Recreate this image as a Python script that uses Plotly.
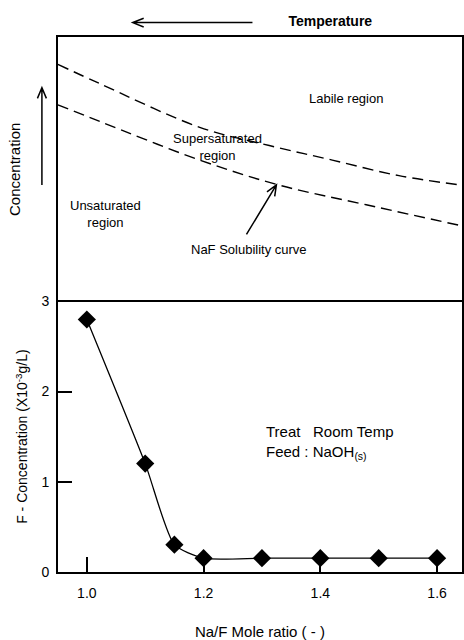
import math
import plotly.graph_objects as go

# Bottom panel data
mole_ratio = [1.0, 1.1, 1.15, 1.2, 1.3, 1.4, 1.5, 1.6]
f_conc = [2.8, 1.2, 0.3, 0.15, 0.15, 0.15, 0.15, 0.15]
x_ticks = [1.0, 1.2, 1.4, 1.6]
x_tick_labels = ["1.0", "1.2", "1.4", "1.6"]
y_ticks = [0, 1, 2, 3]
y_tick_labels = ["0", "1", "2", "3"]

# Top panel schematic curves (relative temperature / concentration, 0..1)
labile_x = [0.0, 0.104, 0.351, 0.523, 0.679, 0.844, 1.0]
labile_y = [0.897, 0.824, 0.659, 0.590, 0.535, 0.476, 0.440]
solub_x = [0.0, 0.104, 0.351, 0.548, 0.763, 1.0]
solub_y = [0.744, 0.681, 0.535, 0.440, 0.366, 0.286]

W, H = 464, 640
FONT = "Liberation Sans, Arial, sans-serif"


def px(x):
    return x / W


def py(y):
    return (H - y) / H


fig = go.Figure()

fig.add_trace(go.Scatter(
    x=mole_ratio, y=f_conc, mode="lines+markers",
    line=dict(color="black", width=1.3, shape="spline", smoothing=0.6),
    marker=dict(symbol="diamond", size=14, color="black"),
    xaxis="x", yaxis="y", showlegend=False))

for cx, cy in [(labile_x, labile_y), (solub_x, solub_y)]:
    fig.add_trace(go.Scatter(
        x=cx, y=cy, mode="lines",
        line=dict(color="black", width=1.4, dash="11px,6px", shape="spline"),
        xaxis="x2", yaxis="y2", showlegend=False))

xd = [px(58), px(463)]
fig.update_layout(
    width=W, height=H,
    margin=dict(l=0, r=0, t=0, b=0),
    paper_bgcolor="white", plot_bgcolor="white",
    font=dict(family=FONT, color="black", size=13),
    title=dict(text="Temperature", x=px(331), y=py(13), xref="paper", yref="paper",
               xanchor="center", yanchor="middle",
               font=dict(size=14, family=FONT, color="black", weight="bold")),
    xaxis=dict(domain=xd, range=[0.9504, 1.6427], tickvals=x_ticks, ticktext=x_tick_labels,
               ticks="inside", ticklen=15, tickwidth=1.5, tickcolor="black",
               showline=True, linecolor="black", linewidth=1.8, mirror=True,
               showgrid=False, zeroline=False, tickfont=dict(size=14), ticklabelstandoff=8,
               title=dict(text="Na/F Mole ratio ( - )", font=dict(size=15), standoff=28),
               anchor="y"),
    yaxis=dict(domain=[py(580), py(302)], range=[0, 3], tickvals=y_ticks, ticktext=y_tick_labels,
               ticks="inside", ticklen=14, tickwidth=1.5, tickcolor="black",
               showline=True, linecolor="black", linewidth=1.8, mirror=True,
               showgrid=False, zeroline=False, tickfont=dict(size=14), ticklabelstandoff=4,
               title=dict(text="F - Concentration (X10<sup>-3</sup>g/L)", font=dict(size=14), standoff=10),
               anchor="x"),
    xaxis2=dict(domain=xd, range=[0, 1], showticklabels=False, ticks="", side="top",
                showline=True, linecolor="black", linewidth=1.8, mirror=False,
                showgrid=False, zeroline=False, anchor="y2"),
    yaxis2=dict(domain=[py(302), py(30)], range=[0, 1], showticklabels=False, ticks="",
                showline=True, linecolor="black", linewidth=1.8, mirror=True,
                showgrid=False, zeroline=False, anchor="x2",
                title=dict(text="Concentration", font=dict(size=15), standoff=32)),
)

texts = [
    ("Labile region", 347, 93, 13, 0, "center"),
    ("Supersaturated<br>region", 218, 143, 13, 0, "center"),
    ("Unsaturated<br>region", 106, 212, 13, 0, "center"),
    ("NaF Solubility curve", 250, 248, 13, 0, "center"),
    ("Treat   Room Temp<br>Feed : NaOH<sub>(s)</sub>", 265, 447, 15, 0, "left"),
]
for t, x, y, s, ang, al in texts:
    fig.add_annotation(text=t, x=px(x), y=py(y), xref="paper", yref="paper",
                       xanchor=al, yanchor="middle",
                       showarrow=False, textangle=ang, align="left" if al == "left" else "center",
                       font=dict(size=s, family=FONT, color="black"))


def arrow_path(tail, tip, head_len=11, half_w=4.5):
    (x0, y0), (x1, y1) = tail, tip
    dx, dy = x0 - x1, y0 - y1
    n = math.hypot(dx, dy)
    ux, uy = dx / n, dy / n
    bx, by = x1 + head_len * ux, y1 + head_len * uy
    p1 = (bx + half_w * uy, by - half_w * ux)
    p2 = (bx - half_w * uy, by + half_w * ux)

    def P(p):
        return f"{px(p[0]):.5f},{py(p[1]):.5f}"
    return (f"M{P(tail)} L{P(tip)} M{P(p1)} L{P(tip)} L{P(p2)}")


arrows = [
    ((253, 15), (133, 15)),
    ((42, 182), (42, 82)),
    ((247, 233), (277, 182)),
]
for tail, tip in arrows:
    fig.add_shape(type="path", xref="paper", yref="paper", path=arrow_path(tail, tip),
                  line=dict(color="black", width=1.5))

fig.write_html("out.html")
